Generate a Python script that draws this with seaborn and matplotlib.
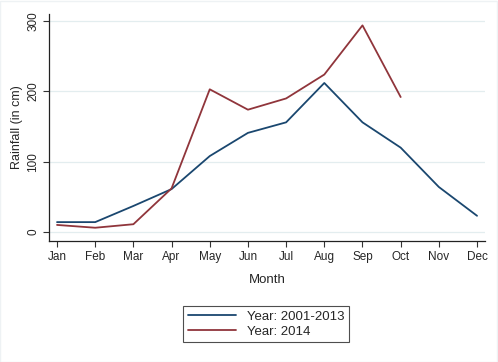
import matplotlib
matplotlib.use("Agg")
from matplotlib import pyplot as plt
import pandas as pd
import seaborn as sns

months = ["Jan", "Feb", "Mar", "Apr", "May", "Jun", "Jul", "Aug", "Sep", "Oct", "Nov", "Dec"]
rain_2001_2013 = [14, 14, 37, 61, 108, 141, 156, 212, 156, 120, 64, 23]
rain_2014 = [10, 6, 11, 62, 203, 174, 190, 224, 294, 192]
series_names = ["Year: 2001-2013", "Year: 2014"]
colors = ["#1a476f", "#90353b"]

df = pd.concat([
    pd.DataFrame({"month": range(len(rain_2001_2013)), "rain": rain_2001_2013, "series": series_names[0]}),
    pd.DataFrame({"month": range(len(rain_2014)), "rain": rain_2014, "series": series_names[1]}),
], ignore_index=True)

sns.set_style("white")
plt.rcParams["font.family"] = ["Liberation Sans", "DejaVu Sans"]

fig = plt.figure(figsize=(4.98, 3.62), dpi=100)
ax = fig.add_axes([0.0984, 0.334, 0.8756, 0.627])

sns.lineplot(data=df, x="month", y="rain", hue="series", palette=colors,
             linewidth=1.3, ax=ax, legend=False)

# Stata-like grid and axes
ax.set_xlim(-0.21, 11.21)
ax.set_ylim(-13, 310)
ax.set_yticks([0, 100, 200, 300])
ax.set_xticks(range(12))
ax.set_xticklabels(months)
ax.yaxis.grid(True, color="#e3edef", linewidth=0.9)
ax.xaxis.grid(False)
for side in ["top", "right"]:
    ax.spines[side].set_visible(False)
for side in ["left", "bottom"]:
    ax.spines[side].set_color("#222222")
    ax.spines[side].set_linewidth(0.9)
ax.tick_params(axis="both", direction="out", length=4, width=0.8, color="#333333",
               labelsize=8.5, bottom=True, left=True, pad=3)
for lbl in ax.get_yticklabels():
    lbl.set_rotation(90)
    lbl.set_va("center")
ax.set_xlabel("Month", fontsize=9.5, labelpad=8)
ax.set_ylabel("Rainfall (in cm)", fontsize=9, labelpad=3)

handles = [plt.Line2D([], [], color=c, linewidth=1.3) for c in colors]
leg = fig.legend(handles, series_names, loc="center", bbox_to_anchor=(266 / 498, 1 - 324 / 362),
                 frameon=True, fancybox=False, fontsize=9.5, handlelength=3.7,
                 borderpad=0.35, labelspacing=0.2, handletextpad=0.8)
leg.get_frame().set_edgecolor("#222222")
leg.get_frame().set_linewidth(0.8)

# faint outer frame
fig.patches.append(plt.Rectangle((0, 0), 0.998, 0.997, transform=fig.transFigure,
                                 fill=False, edgecolor="#eef2f4", linewidth=1))

fig.savefig("out.png", dpi=100)
